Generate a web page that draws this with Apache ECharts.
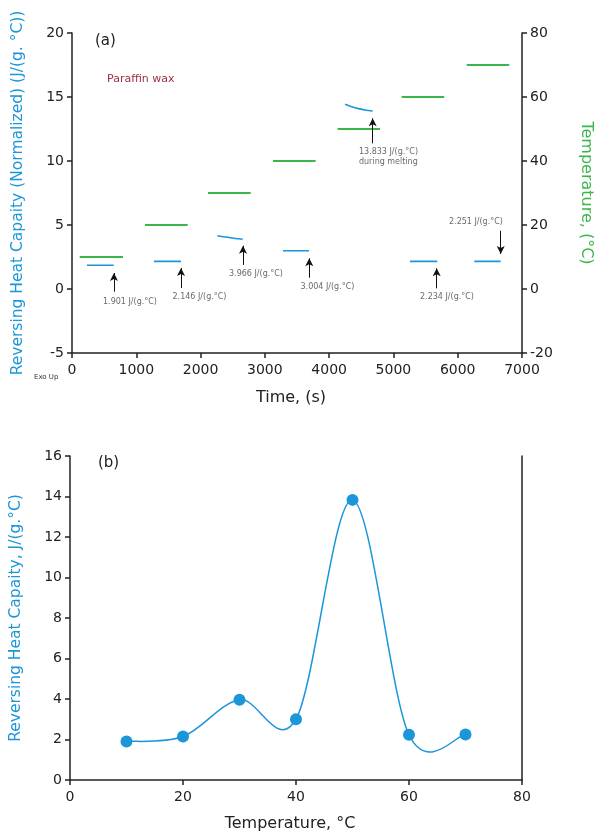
<!DOCTYPE html>
<html><head><meta charset="utf-8">
<script src="https://cdn.jsdelivr.net/npm/echarts@6/dist/echarts.min.js"></script>
<style>html,body{margin:0;padding:0;background:#fff}#c{width:594px;height:835px}</style>
</head><body><div id="c"></div>
<script>
// ---- Data (a) ----
const tempStart = [120, 1135, 2115, 3127, 4132, 5128, 6140];
const tempEnd   = [793, 1800, 2780, 3790, 4790, 5790, 6802];
const tempValue = [10, 20, 30, 40, 50, 60, 70];
const cpSeg1 = [[233, 1.85], [650, 1.85]];
const cpSeg2 = [[1275, 2.16], [1695, 2.16]];
const cpSeg3 = [[2260, 4.16], [2460, 4.01], [2655, 3.89]];
const cpSeg4 = [[3282, 2.99], [3687, 2.99]];
const cpSeg5 = [[4247, 14.43], [4351, 14.24], [4455, 14.09], [4559, 13.98], [4677, 13.91]];
const cpSeg6 = [[5258, 2.16], [5682, 2.16]];
const cpSeg7 = [[6258, 2.16], [6668, 2.16]];
const cpSegments = [cpSeg1, cpSeg2, cpSeg3, cpSeg4, cpSeg5, cpSeg6, cpSeg7];
const arrowTime = [653, 1696, 2660, 3691, 4677, 5673, 6669];
const arrowFrom = [-0.21, 0.08, 1.88, 0.88, 11.38, 0.05, 4.55];
const arrowTo   = [1.25, 1.64, 3.38, 2.40, 13.34, 1.62, 2.73];
const noteText  = ['1.901 J/(g.°C)', '2.146 J/(g.°C)', '3.966 J/(g.°C)', '3.004 J/(g.°C)',
                   '13.833 J/(g.°C)\nduring melting', '2.234 J/(g.°C)', '2.251 J/(g.°C)'];
const noteTime  = [902, 1983, 2862, 3974, 4464, 5833, 6284];
const noteValue = [-0.99, -0.60, 1.15, 0.13, 10.34, -0.60, 5.26];
const timeTicks = [0, 7000, 1000];
// ---- Data (b) ----
const bTemp = [10, 20, 30, 40, 50, 60, 70];
const bCp   = [1.901, 2.146, 3.966, 3.004, 13.833, 2.234, 2.251];

const BLUE = '#1b96d8', GREEN = '#3cb64a', TXT = '#222';
const FONT = 'DejaVu Sans';

const tempData = [];
tempStart.forEach((s, i) => { tempData.push([s, tempValue[i]], [tempEnd[i], tempValue[i]], [tempEnd[i] + 1, null]); });
const cpData = [];
cpSegments.forEach(seg => { seg.forEach(p => cpData.push(p)); cpData.push([seg[seg.length - 1][0] + 1, null]); });
const arrows = arrowTime.map((t, i) => [{coord: [t, arrowFrom[i]]}, {coord: [t, arrowTo[i]]}]);
const notes = noteText.map((n, i) => ({name: n, value: [noteTime[i], noteValue[i]],
  label: i === 4 ? {align: 'left'} : {}}));
const bPoints = bTemp.map((t, i) => [t, bCp[i]]);

const axLine = {show: true, onZero: false, lineStyle: {color: '#222', width: 1.5}};
const axTick = {show: true, length: 5, lineStyle: {color: '#222', width: 1.5}};
const axLabel = {color: TXT, fontSize: 14, fontFamily: FONT};

// smooth connecting curve (Catmull-Rom style Bezier) drawn through the data points via the axis scale
function renderCurve(params, api) {
  const i = params.dataIndex;
  const n = bPoints.length;
  if (i >= n - 1) return null;
  const P = k => api.coord(bPoints[Math.max(0, Math.min(n - 1, k))]);
  const p0 = P(i - 1), p1 = P(i), p2 = P(i + 1), p3 = P(i + 2);
  const c1 = [p1[0] + (p2[0] - p0[0]) / 6, p1[1] + (p2[1] - p0[1]) / 6];
  const c2 = [p2[0] - (p3[0] - p1[0]) / 6, p2[1] - (p3[1] - p1[1]) / 6];
  return {type: 'bezierCurve',
    shape: {x1: p1[0], y1: p1[1], x2: p2[0], y2: p2[1], cpx1: c1[0], cpy1: c1[1], cpx2: c2[0], cpy2: c2[1]},
    style: {stroke: BLUE, lineWidth: 1.5, fill: null}};
}

const chart = echarts.init(document.getElementById('c'));
chart.setOption({
  animation: false,
  grid: [
    {left: 72, right: 72, top: 33, height: 320, outerBoundsMode: 'none', containLabel: false},
    {left: 70, right: 72, top: 456, bottom: 55, outerBoundsMode: 'none', containLabel: false}
  ],
  xAxis: [
    {gridIndex: 0, type: 'value', min: timeTicks[0], max: timeTicks[1], interval: timeTicks[2],
     axisLine: axLine, axisTick: axTick, axisLabel: Object.assign({margin: 10, formatter: v => String(v)}, axLabel),
     splitLine: {show: false},
     name: 'Time, (s)', nameLocation: 'middle', nameGap: 37,
     nameTextStyle: {color: TXT, fontSize: 16, fontFamily: FONT, padding: [0, 12, 0, 0]}},
    {gridIndex: 1, type: 'value', min: 0, max: 80, interval: 20,
     axisLine: axLine, axisTick: axTick, axisLabel: Object.assign({margin: 10}, axLabel), splitLine: {show: false},
     name: 'Temperature, °C', nameLocation: 'middle', nameGap: 36,
     nameTextStyle: {color: TXT, fontSize: 16, fontFamily: FONT, padding: [0, 12, 0, 0]}}
  ],
  yAxis: [
    {gridIndex: 0, type: 'value', min: -5, max: 20, interval: 5, position: 'left',
     axisLine: axLine, axisTick: axTick, axisLabel: axLabel, splitLine: {show: false},
     name: 'Reversing Heat Capaity (Normalized) (J/(g. °C))', nameLocation: 'middle', nameGap: 46,
     nameTextStyle: {color: BLUE, fontSize: 15.5, fontFamily: FONT}},
    {gridIndex: 0, type: 'value', min: -20, max: 80, interval: 20, position: 'right',
     axisLine: axLine, axisTick: axTick, axisLabel: axLabel, splitLine: {show: false},
     name: 'Temperature, (°C)', nameLocation: 'middle', nameGap: 56, nameRotate: -90,
     nameTextStyle: {color: GREEN, fontSize: 16, fontFamily: FONT}},
    {gridIndex: 1, type: 'value', min: 0, max: 16, interval: 2, position: 'left',
     axisLine: axLine, axisTick: axTick, axisLabel: axLabel, splitLine: {show: false},
     name: 'Reversing Heat Capaity, J/(g.°C)', nameLocation: 'middle', nameGap: 46,
     nameTextStyle: {color: BLUE, fontSize: 15.5, fontFamily: FONT}},
    {gridIndex: 1, type: 'value', min: 0, max: 16, interval: 2, position: 'right',
     axisLine: axLine, axisTick: {show: false}, axisLabel: {show: false}, splitLine: {show: false}}
  ],
  series: [
    {type: 'line', xAxisIndex: 0, yAxisIndex: 1, data: tempData, showSymbol: false, symbol: 'none',
     connectNulls: false, lineStyle: {color: GREEN, width: 2}, silent: true},
    {type: 'line', xAxisIndex: 0, yAxisIndex: 0, data: cpData, showSymbol: false, symbol: 'none',
     smooth: 0.3, connectNulls: false, lineStyle: {color: BLUE, width: 1.6}, silent: true,
     markLine: {silent: true, symbol: ['none', 'arrow'], symbolSize: [6, 8], label: {show: false},
       lineStyle: {color: '#111', width: 1, type: 'solid'}, data: arrows}},
    {type: 'scatter', xAxisIndex: 0, yAxisIndex: 0, data: notes, symbolSize: 0.1,
     itemStyle: {color: 'rgba(0,0,0,0)'}, silent: true,
     label: {show: true, position: 'inside', formatter: p => p.name, color: '#444', fontSize: 8,
       fontFamily: FONT, lineHeight: 10}},
    {type: 'custom', xAxisIndex: 1, yAxisIndex: 2, data: bPoints, renderItem: renderCurve,
     encode: {x: 0, y: 1}, silent: true, z: 2},
    {type: 'scatter', xAxisIndex: 1, yAxisIndex: 2, data: bPoints, symbol: 'circle', symbolSize: 12,
     itemStyle: {color: BLUE, opacity: 1}, silent: true, z: 3}
  ],
  graphic: [
    {type: 'text', left: 95, top: 34, style: {text: '(a)', fontSize: 15, fontFamily: FONT, fill: TXT}},
    {type: 'text', left: 107, top: 74, style: {text: 'Paraffin wax', fontSize: 11, fontFamily: FONT, fill: '#9a3040'}},
    {type: 'text', left: 34, top: 374, style: {text: 'Exo Up', fontSize: 7, fontFamily: FONT, fill: '#333'}},
    {type: 'text', left: 98, top: 456, style: {text: '(b)', fontSize: 15, fontFamily: FONT, fill: TXT}}
  ]
});
</script></body></html>
